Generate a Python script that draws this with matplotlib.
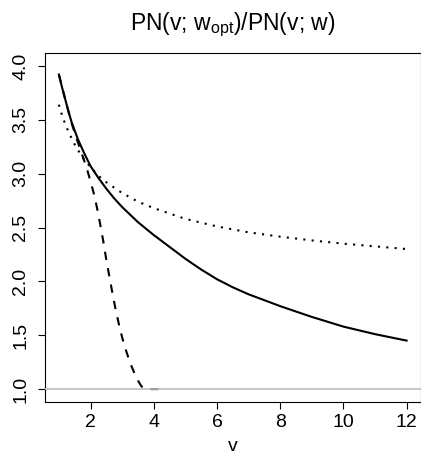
import numpy as np
import matplotlib
matplotlib.use('Agg')
import matplotlib.pyplot as plt

# Values
v_solid = [1.0, 1.1, 1.2, 1.3, 1.4, 1.5, 1.6, 1.8, 2.0, 2.25, 2.5, 2.75, 3.0, 3.5, 4.0, 4.5, 5.0,
           5.5, 6.0, 6.5, 7.0, 7.5, 8.0, 8.5, 9.0, 9.5, 10.0, 10.5, 11.0, 11.5, 12.0]
r_solid = [3.92, 3.80, 3.69, 3.58, 3.48, 3.40, 3.32, 3.19, 3.07, 2.96, 2.86, 2.77, 2.69, 2.55, 2.43,
           2.32, 2.21, 2.11, 2.02, 1.945, 1.88, 1.825, 1.77, 1.72, 1.67, 1.625, 1.58, 1.545, 1.51,
           1.48, 1.45]

v_dotted = [1.0, 1.1, 1.2, 1.3, 1.4, 1.5, 1.6, 1.8, 2.0, 2.25, 2.5, 2.75, 3.0, 3.5, 4.0, 4.5,
            5.0, 6.0, 7.0, 8.0, 9.0, 10.0, 11.0, 12.0]
r_dotted = [3.64, 3.54, 3.46, 3.39, 3.33, 3.27, 3.22, 3.13, 3.06, 2.98, 2.92, 2.87, 2.82, 2.74,
            2.68, 2.63, 2.58, 2.51, 2.455, 2.415, 2.38, 2.35, 2.325, 2.30]

v_dashed = [1.0, 1.2, 1.4, 1.6, 1.8, 1.9, 2.0, 2.1, 2.2, 2.3, 2.4, 2.5, 2.6, 2.7, 2.8, 2.9, 3.0,
            3.1, 3.2, 3.3, 3.4, 3.5, 3.6, 3.7, 4.3]
r_dashed = [3.92, 3.69, 3.47, 3.29, 3.12, 3.03, 2.93, 2.82, 2.69, 2.54, 2.38, 2.20, 2.04, 1.88,
            1.73, 1.60, 1.48, 1.38, 1.29, 1.21, 1.14, 1.08, 1.03, 1.0, 1.0]

x_ticks = [2, 4, 6, 8, 10, 12]
y_ticks = [1.0, 1.5, 2.0, 2.5, 3.0, 3.5, 4.0]

plt.rcParams['font.family'] = ['Liberation Sans', 'DejaVu Sans']

fig = plt.figure(figsize=(4.21, 4.54), dpi=100)
ax = fig.add_axes([45 / 421, 52 / 454, 375.5 / 421, 349 / 454])

ax.plot(v_solid, r_solid, '-', color='black', lw=1.5)
ax.plot(v_dotted, r_dotted, color='black', lw=1.5, linestyle=(0, (1, 3)), dash_capstyle='butt')
ax.plot(v_dashed, r_dashed, color='black', lw=1.5, linestyle=(0, (4, 4)), dash_capstyle='butt')
ax.axhline(1.0, color='#bebebe', lw=1.2, zorder=5)

ax.set_xlim(0.56, 12.44)
ax.set_ylim(0.88, 4.12)
ax.set_xticks(x_ticks)
ax.set_yticks(y_ticks)
ax.set_yticklabels([f'{t:.1f}' for t in y_ticks])

for sp in ax.spines.values():
    sp.set_linewidth(0.8)
ax.tick_params(axis='both', direction='out', length=5, width=0.8, labelsize=14)
ax.tick_params(axis='x', pad=3.5)
ax.tick_params(axis='y', pad=6.5, labelrotation=90)
for lab in ax.get_yticklabels():
    lab.set_va('center')

ax.set_xlabel('v', fontsize=14, labelpad=5)
ax.set_title('PN(v; w$_{\\mathregular{opt}}$)/PN(v; w)', fontsize=16.5, pad=16.5)

fig.savefig('out.png', dpi=100)
